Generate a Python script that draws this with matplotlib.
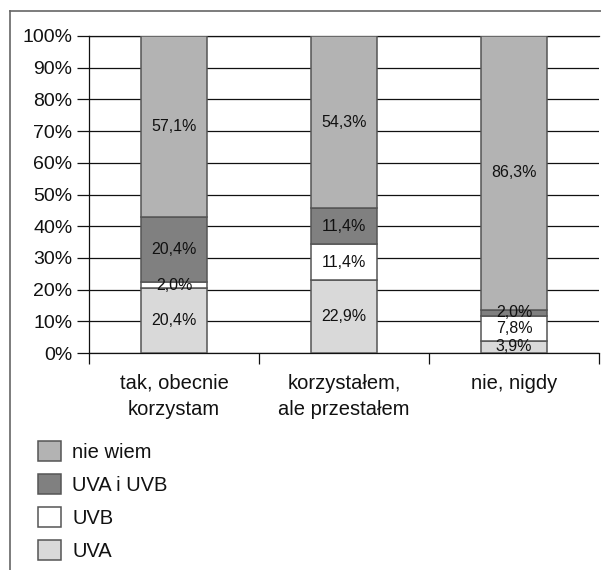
import matplotlib
matplotlib.use("Agg")
import matplotlib.pyplot as plt
from matplotlib.patches import Patch
from matplotlib.lines import Line2D

plt.rcParams['font.family'] = ['Liberation Sans', 'DejaVu Sans']

categories = ["tak, obecnie\nkorzystam", "korzystałem,\nale przestałem", "nie, nigdy"]
series_names = ["UVA", "UVB", "UVA i UVB", "nie wiem"]
uva = [20.4, 22.9, 3.9]
uvb = [2.0, 11.4, 7.8]
uva_uvb = [20.4, 11.4, 2.0]
nie_wiem = [57.1, 54.3, 86.3]
series = [uva, uvb, uva_uvb, nie_wiem]
colors = ["#d9d9d9", "#ffffff", "#808080", "#b3b3b3"]
yticks = [0, 10, 20, 30, 40, 50, 60, 70, 80, 90, 100]

W, H = 601, 570
fig = plt.figure(figsize=(W / 100, H / 100), dpi=100)

# outer frame (top and left lines)
fig.add_artist(Line2D([10 / W, 1.0], [1 - 10.5 / H, 1 - 10.5 / H], color="#666666", lw=1.2))
fig.add_artist(Line2D([10.5 / W, 10.5 / W], [0, 1 - 10.5 / H], color="#666666", lw=1.2))

ax = fig.add_axes([89 / W, 1 - 353 / H, 510 / W, (353 - 36) / H])
ax.set_xlim(-0.5, 2.5)
ax.set_ylim(0, 100)

x = list(range(len(categories)))
bottom = [0, 0, 0]
for vals, col in zip(series, colors):
    ax.bar(x, vals, width=0.385, bottom=bottom, color=col, edgecolor="#555555",
           linewidth=1.1, zorder=3)
    for i, v in enumerate(vals):
        lbl = f"{v:.1f}".replace(".", ",") + "%"
        ax.text(x[i], bottom[i] + v / 2, lbl, ha="center", va="center",
                fontsize=11.5, color="#111111", zorder=4)
    bottom = [b + v for b, v in zip(bottom, vals)]

ax.set_yticks(yticks)
ax.set_yticklabels([f"{t}%" for t in yticks])
ax.yaxis.grid(True, color="#111111", linewidth=0.9, zorder=0)
ax.set_axisbelow(True)
ax.tick_params(axis="y", direction="out", length=8.5, width=0.9, pad=3.5,
               labelsize=14, colors="#111111")

ax.set_xticks([-0.5, 0.5, 1.5, 2.5])
ax.set_xticklabels([])
ax.set_xticks(x, minor=True)
ax.set_xticklabels(categories, minor=True)
ax.tick_params(axis="x", which="major", direction="out", length=8, width=0.9, color="#111111")
ax.tick_params(axis="x", which="minor", length=0, pad=15, labelsize=14.5, labelcolor="#111111")
for lab in ax.get_xticklabels(minor=True):
    lab.set_linespacing(1.5)

for s in ["right"]:
    ax.spines[s].set_visible(False)
for s in ["left", "bottom", "top"]:
    ax.spines[s].set_linewidth(0.9)
    ax.spines[s].set_color("#111111")

handles = [Patch(facecolor=colors[i], edgecolor="#555555", linewidth=1.1) for i in [3, 2, 1, 0]]
labels = [series_names[i] for i in [3, 2, 1, 0]]
fig.legend(handles, labels, loc="upper left", bbox_to_anchor=(38 / W, 1 - 441 / H),
           frameon=False, fontsize=14.5, handlelength=1.15, handleheight=1.15,
           labelspacing=0.6, handletextpad=0.55, borderpad=0, borderaxespad=0,
           labelcolor="#111111")

fig.savefig("out.png", dpi=100)
